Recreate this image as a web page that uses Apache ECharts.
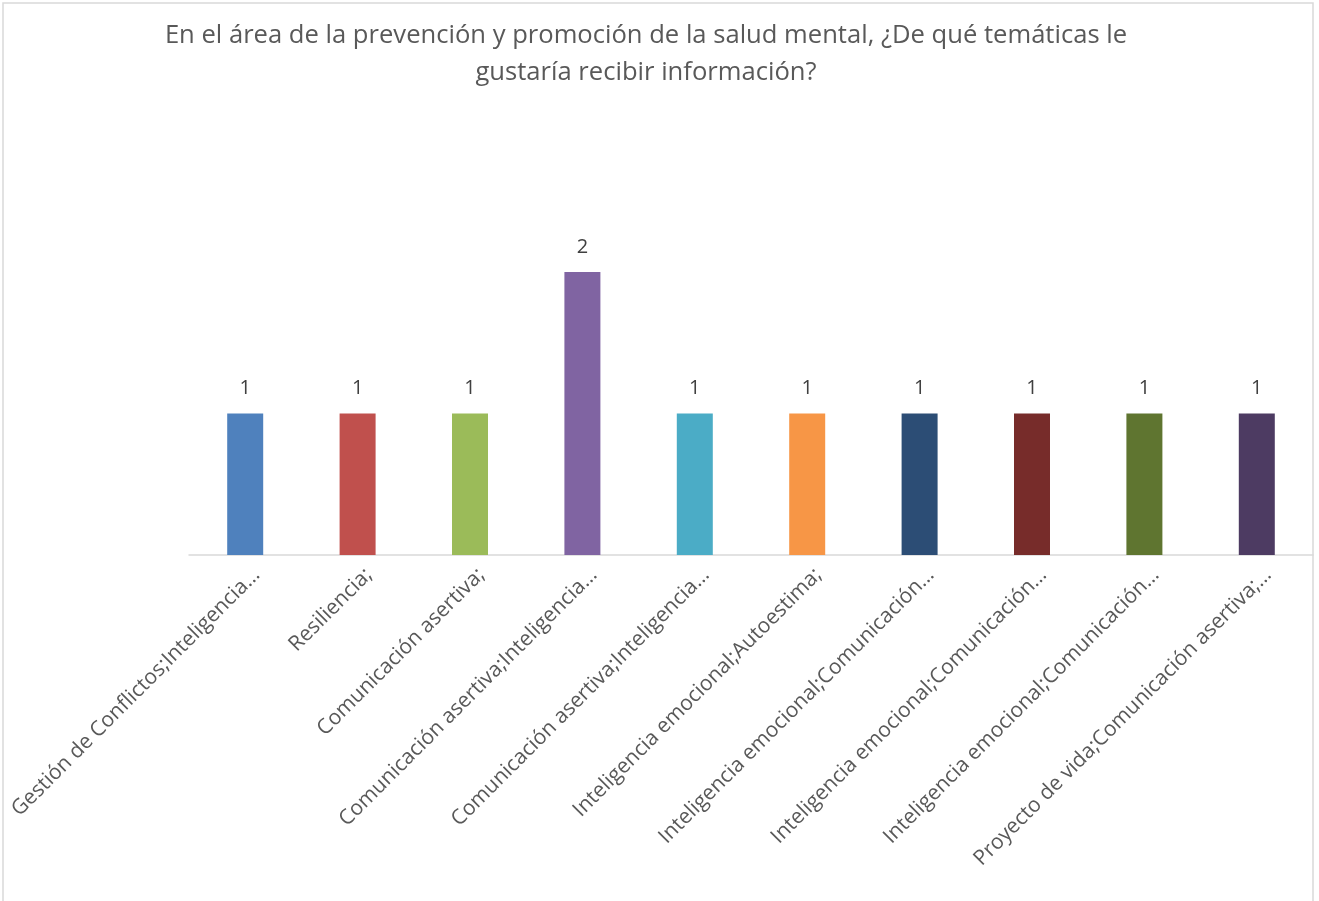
<!DOCTYPE html>
<html>
<head>
<meta charset="utf-8">
<script src="https://cdn.jsdelivr.net/npm/echarts@6/dist/echarts.min.js"></script>
<style>
  html, body { margin: 0; padding: 0; background: #fff; }
  #chart { width: 1319px; height: 901px; }
</style>
</head>
<body>
<div id="chart"></div>
<script>
// Temáticas solicitadas (etiquetas tal como se muestran, recortadas)
const categories = [
  'Gestión de Conflictos;Inteligencia…',
  'Resiliencia;',
  'Comunicación asertiva;',
  'Comunicación asertiva;Inteligencia…',
  'Comunicación asertiva;Inteligencia…',
  'Inteligencia emocional;Autoestima;',
  'Inteligencia emocional;Comunicación…',
  'Inteligencia emocional;Comunicación…',
  'Inteligencia emocional;Comunicación…',
  'Proyecto de vida;Comunicación asertiva;…'
];
const counts = [1, 1, 1, 2, 1, 1, 1, 1, 1, 1];
const barColors = ['#4F81BD', '#C0504D', '#9BBB59', '#8064A2', '#4BACC6',
                   '#F79646', '#2C4D75', '#772C2A', '#5F7530', '#4D3B62'];

const chart = echarts.init(document.getElementById('chart'));
chart.setOption({
  animation: false,
  backgroundColor: '#fff',
  graphic: [{
    type: 'rect',
    shape: { x: 3, y: 3, width: 1310, height: 910 },
    style: { fill: 'none', stroke: '#d9d9d9', lineWidth: 1.5 },
    silent: true
  }],
  title: {
    text: 'En el área de la prevención y promoción de la salud mental, ¿De qué temáticas le\ngustaría recibir información?',
    left: 641,
    textAlign: 'center',
    top: 12,
    textStyle: {
      fontFamily: 'Open Sans',
      fontSize: 25.6,
      fontWeight: 'normal',
      color: '#595959',
      lineHeight: 37
    }
  },
  grid: { left: 189, right: 6, top: 272, bottom: 346, containLabel: false },
  xAxis: {
    type: 'category',
    data: categories,
    axisLine: { lineStyle: { color: '#d9d9d9', width: 1.5 } },
    axisTick: { show: false },
    axisLabel: {
      interval: 0,
      rotate: 45,
      margin: 28,
      padding: [0, -16, 0, 0],
      fontFamily: 'Open Sans',
      fontSize: 21,
      color: '#595959'
    }
  },
  yAxis: {
    type: 'value',
    min: 0,
    max: 2,
    show: false,
    splitLine: { show: false }
  },
  series: [{
    type: 'bar',
    barWidth: 36,
    data: counts.map((v, i) => ({ value: v, itemStyle: { color: barColors[i] } })),
    label: {
      show: true,
      position: 'top',
      distance: 15,
      fontFamily: 'Open Sans',
      fontSize: 20,
      color: '#404040'
    }
  }]
});
</script>
</body>
</html>
